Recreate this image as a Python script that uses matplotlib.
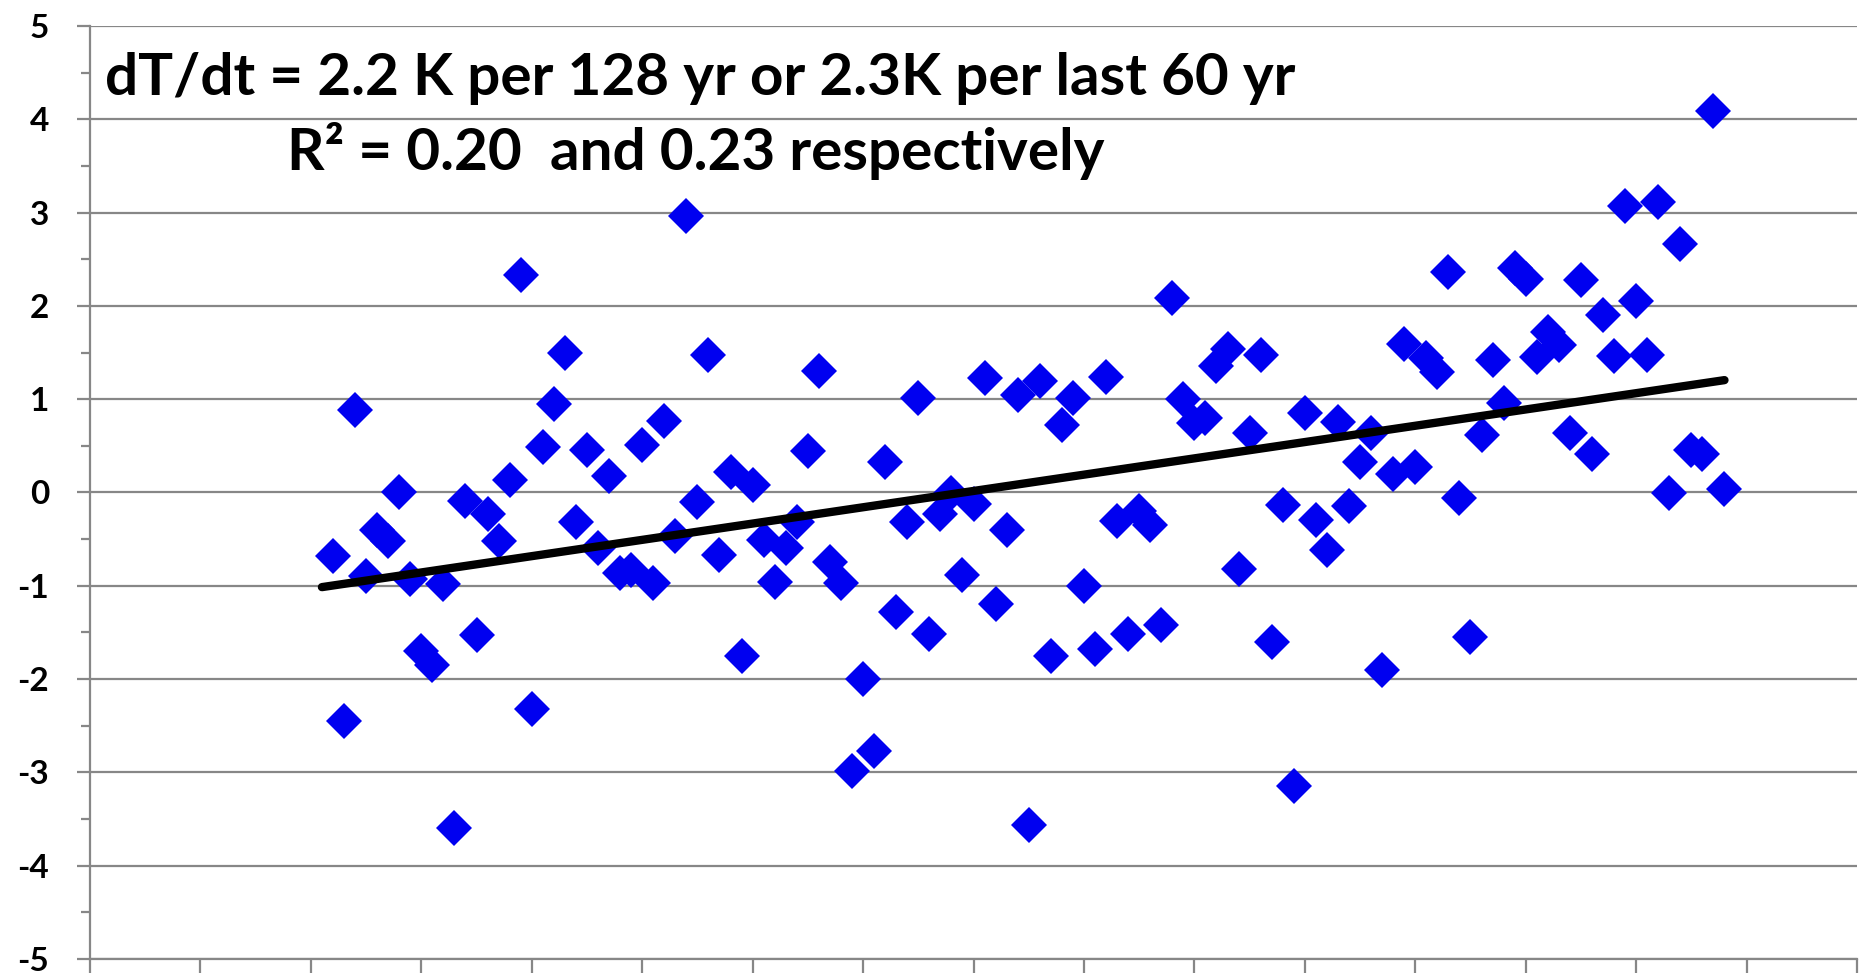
import matplotlib
matplotlib.use("Agg")
import matplotlib.pyplot as plt
import numpy as np

GRID = "#878787"
BLUE = "#0000f0"

# anomalies, one per year
first_year = 1882
anomaly = [
    -0.68, -2.45, 0.88, -0.90, -0.40, -0.52, 0.00, -0.93, -1.70, -1.85,
    -0.98, -3.60, -0.09, -1.53, -0.23, -0.52, 0.13, 2.33, -2.32, 0.49,
    0.95, 1.49, -0.32, 0.46, -0.60, 0.18, -0.86, -0.83, 0.51, -0.97,
    0.77, -0.47, 2.96, -0.10, 1.47, -0.67, 0.22, -1.75, 0.08, -0.51,
    -0.96, -0.59, -0.32, 0.45, 1.30, -0.74, -0.97, -2.98, -2.00, -2.77,
    0.33, -1.28, -0.32, 1.01, -1.52, -0.23, -0.01, -0.88, -0.12, 1.23,
    -1.20, -0.40, 1.05, -3.56, 1.19, -1.75, 0.72, 1.01, -1.00, -1.68,
    1.24, -0.31, -1.52, -0.20, -0.35, -1.42, 2.09, 1.00, 0.74, 0.80,
    1.36, 1.54, -0.82, 0.64, 1.47, -1.60, -0.13, -3.15, 0.85, -0.29,
    -0.62, 0.76, -0.14, 0.33, 0.64, -1.90, 0.20, 1.59, 0.27, 1.44,
    1.29, 2.36, -0.06, -1.55, 0.62, 1.42, 0.96, 2.41, 2.29, 1.45,
    1.72, 1.58, 0.64, 2.28, 0.41, 1.90, 1.46, 3.07, 2.05, 1.47,
    3.11, -0.01, 2.66, 0.46, 0.41, 4.09, 0.04,
]
years = np.arange(first_year, first_year + len(anomaly))

x_ticks = np.arange(1860, 2021, 10)
y_major = np.arange(-5, 6, 1)
y_minor = np.arange(-4.5, 5, 1)

title1 = "dT/dt = 2.2 K per 128 yr or 2.3K per last 60 yr"
title2 = "R\u00b2 = 0.20  and 0.23 respectively"

plt.rcParams["font.family"] = ["Lato", "DejaVu Sans"]
plt.rcParams["font.weight"] = "bold"

fig = plt.figure(figsize=(18.73, 9.73), dpi=100)
ax = fig.add_axes([90 / 1873, 1 - 959 / 973, (1857 - 90) / 1873, (959 - 26) / 973])

ax.plot(years, anomaly, linestyle="none", marker="D", markersize=18.5,
        color=BLUE, markeredgewidth=0, zorder=3)

# linear trend over the record
k, b = np.polyfit(years, anomaly, 1)
tx = np.array([years[0] - 1, years[-1]])
ax.plot(tx, k * tx + b, color="black", linewidth=6, solid_capstyle="round", zorder=4)

ax.set_xlim(x_ticks[0], x_ticks[-1])
ax.set_ylim(-5, 5)
ax.set_xticks(x_ticks)
ax.set_xticklabels([])
ax.set_yticks(y_major)
ax.set_yticks(y_minor, minor=True)
ax.set_yticklabels([str(v) for v in y_major], fontsize=24, fontweight="bold")

ax.yaxis.grid(True, color=GRID, linewidth=1.6)
ax.set_axisbelow(True)
for side in ("top", "right"):
    ax.spines[side].set_visible(False)
for side in ("left", "bottom"):
    ax.spines[side].set_color(GRID)
    ax.spines[side].set_linewidth(1.6)
ax.tick_params(axis="y", which="major", length=9.5, width=1.6, color=GRID, pad=20)
ax.tick_params(axis="y", which="minor", length=6.5, width=1.6, color=GRID)
ax.tick_params(axis="x", length=10, width=1.6, color=GRID)

fig.text(105 / 1873, 1 - 95 / 973, title1, fontsize=42, fontweight="bold",
         ha="left", va="baseline")
fig.text(287 / 1873, 1 - 170 / 973, title2, fontsize=42, fontweight="bold",
         ha="left", va="baseline")

fig.savefig("out.png", dpi=100)
